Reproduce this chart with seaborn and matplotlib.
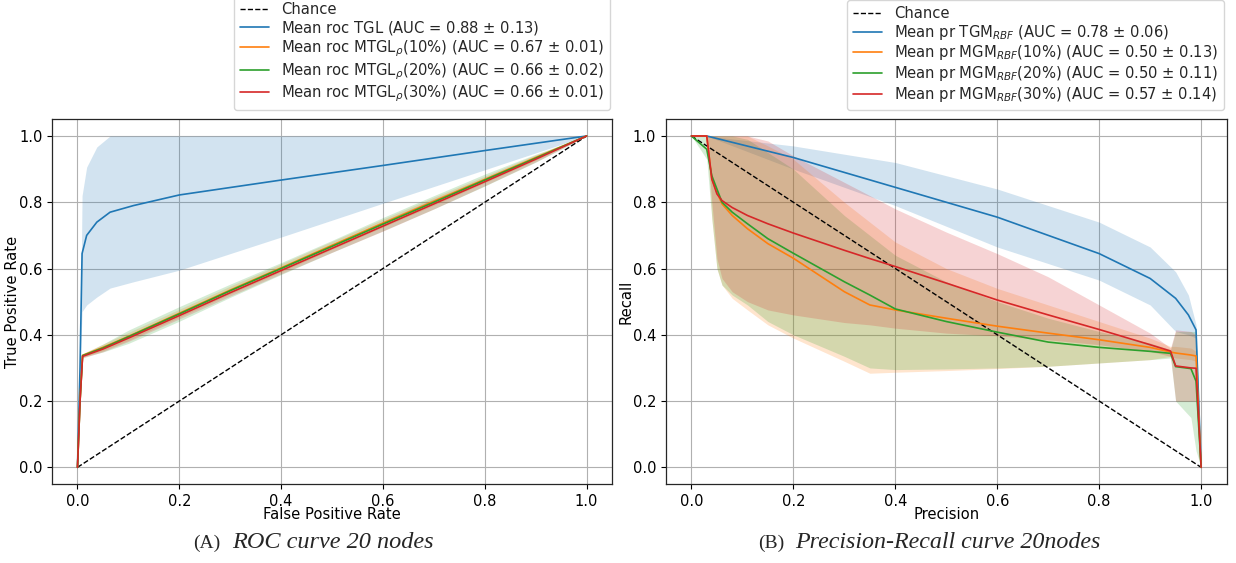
import numpy as np
import matplotlib
matplotlib.use("Agg")
import matplotlib.pyplot as plt
import seaborn as sns

# ---- ROC data (20 nodes) ----
fpr_tgl = [0.0, 0.005, 0.009, 0.018, 0.038, 0.064, 0.11, 0.2, 0.4, 0.6, 0.8, 1.0]
tpr_tgl = [0.0, 0.30, 0.645, 0.70, 0.74, 0.77, 0.79, 0.822, 0.867, 0.911, 0.956, 1.0]
tpr_tgl_lo = [0.0, 0.30, 0.47, 0.49, 0.514, 0.541, 0.56, 0.595, 0.695, 0.797, 0.898, 1.0]
tpr_tgl_hi = [0.0, 0.30, 0.82, 0.906, 0.967, 1.0, 1.0, 1.0, 1.0, 1.0, 1.0, 1.0]

fpr_mtgl = [0.0, 0.005, 0.01, 0.05, 0.1, 0.2, 0.3, 0.4, 0.5, 0.6, 0.7, 0.8, 0.9, 1.0]
tpr_mtgl10 = [0.0, 0.2, 0.338, 0.362, 0.395, 0.465, 0.535, 0.602, 0.67, 0.737, 0.803, 0.869, 0.935, 1.0]
tpr_mtgl20 = [0.0, 0.2, 0.337, 0.36, 0.394, 0.463, 0.533, 0.60, 0.667, 0.734, 0.80, 0.867, 0.933, 1.0]
tpr_mtgl30 = [0.0, 0.2, 0.335, 0.357, 0.39, 0.458, 0.527, 0.594, 0.661, 0.728, 0.795, 0.862, 0.93, 1.0]
sd_mtgl10 = [0, 0, 0.005, 0.01, 0.012, 0.012, 0.012, 0.012, 0.012, 0.012, 0.012, 0.01, 0.008, 0]
sd_mtgl20 = [0, 0, 0.005, 0.012, 0.02, 0.022, 0.02, 0.018, 0.018, 0.02, 0.02, 0.018, 0.012, 0]
sd_mtgl30 = [0, 0, 0.005, 0.008, 0.01, 0.01, 0.01, 0.01, 0.012, 0.015, 0.015, 0.012, 0.008, 0]

# ---- Precision-Recall data ----
prec_tgm = [0.0, 0.03, 0.2, 0.4, 0.6, 0.7, 0.8, 0.9, 0.95, 0.975, 0.99, 1.0]
rec_tgm = [1.0, 1.0, 0.935, 0.845, 0.755, 0.70, 0.645, 0.57, 0.51, 0.46, 0.415, 0.0]
rec_tgm_hi = [1.0, 1.0, 0.97, 0.92, 0.84, 0.79, 0.74, 0.665, 0.59, 0.52, 0.43, 0.0]
rec_tgm_lo = [1.0, 1.0, 0.90, 0.79, 0.665, 0.615, 0.565, 0.49, 0.41, 0.40, 0.39, 0.0]

prec_mgm = [0.0, 0.03, 0.04, 0.05, 0.06, 0.08, 0.11, 0.15, 0.2, 0.3, 0.35, 0.4,
            0.5, 0.6, 0.7, 0.8, 0.9, 0.94, 0.95, 0.98, 0.99, 1.0]
rec_mgm10 = [1.0, 1.0, 0.87, 0.83, 0.795, 0.76, 0.72, 0.675, 0.631, 0.53, 0.49, 0.475,
             0.45, 0.426, 0.405, 0.385, 0.362, 0.348, 0.345, 0.339, 0.336, 0.0]
rec_mgm10_hi = [1.0, 1.0, 1.0, 1.0, 1.0, 1.0, 1.0, 0.97, 0.93, 0.80, 0.74, 0.68,
                0.60, 0.54, 0.49, 0.44, 0.39, 0.365, 0.365, 0.36, 0.35, 0.0]
rec_mgm10_lo = [1.0, 1.0, 0.75, 0.60, 0.55, 0.51, 0.475, 0.43, 0.39, 0.32, 0.284, 0.287,
                0.292, 0.298, 0.305, 0.315, 0.325, 0.335, 0.33, 0.325, 0.32, 0.0]
rec_mgm20 = [1.0, 0.96, 0.88, 0.84, 0.80, 0.77, 0.735, 0.69, 0.646, 0.56, 0.52, 0.478,
             0.44, 0.408, 0.378, 0.362, 0.35, 0.344, 0.304, 0.298, 0.26, 0.0]
rec_mgm20_hi = [1.0, 1.0, 1.0, 1.0, 1.0, 1.0, 0.99, 0.95, 0.90, 0.76, 0.70, 0.64,
                0.56, 0.50, 0.45, 0.41, 0.375, 0.355, 0.41, 0.41, 0.41, 0.0]
rec_mgm20_lo = [1.0, 0.93, 0.75, 0.60, 0.55, 0.52, 0.49, 0.44, 0.40, 0.335, 0.30, 0.295,
                0.297, 0.30, 0.305, 0.315, 0.325, 0.33, 0.20, 0.15, 0.05, 0.0]
rec_mgm30 = [1.0, 1.0, 0.87, 0.825, 0.805, 0.784, 0.76, 0.735, 0.707, 0.655, 0.63, 0.606,
             0.556, 0.505, 0.46, 0.416, 0.37, 0.351, 0.306, 0.30, 0.299, 0.0]
rec_mgm30_hi = [1.0, 1.0, 1.0, 1.0, 1.0, 1.0, 1.0, 0.985, 0.94, 0.86, 0.82, 0.78,
                0.71, 0.645, 0.575, 0.49, 0.405, 0.36, 0.415, 0.41, 0.40, 0.0]
rec_mgm30_lo = [1.0, 1.0, 0.80, 0.63, 0.57, 0.53, 0.50, 0.475, 0.46, 0.437, 0.43, 0.42,
                0.405, 0.397, 0.385, 0.37, 0.35, 0.335, 0.20, 0.20, 0.20, 0.0]

roc_labels = ["Mean roc TGL (AUC = 0.88 $\\pm$ 0.13)",
              "Mean roc MTGL$_\\rho$(10%) (AUC = 0.67 $\\pm$ 0.01)",
              "Mean roc MTGL$_\\rho$(20%) (AUC = 0.66 $\\pm$ 0.02)",
              "Mean roc MTGL$_\\rho$(30%) (AUC = 0.66 $\\pm$ 0.01)"]
pr_labels = ["Mean pr TGM$_{RBF}$ (AUC = 0.78 $\\pm$ 0.06)",
             "Mean pr MGM$_{RBF}$(10%) (AUC = 0.50 $\\pm$ 0.13)",
             "Mean pr MGM$_{RBF}$(20%) (AUC = 0.50 $\\pm$ 0.11)",
             "Mean pr MGM$_{RBF}$(30%) (AUC = 0.57 $\\pm$ 0.14)"]
ticks = [0.0, 0.2, 0.4, 0.6, 0.8, 1.0]

sns.set_style("ticks", {"axes.grid": True, "grid.color": "#b0b0b0",
                        "axes.edgecolor": "black", "xtick.color": "black",
                        "ytick.color": "black", "axes.labelcolor": "black"})
plt.rcParams['font.family'] = ['DejaVu Sans']
plt.rcParams['font.size'] = 10.5
plt.rcParams['axes.labelsize'] = 10.6
plt.rcParams['grid.linewidth'] = 0.8
plt.rcParams['axes.linewidth'] = 0.9

colors = sns.color_palette("tab10")
fig = plt.figure(figsize=(12.36, 5.63), dpi=100)
ax1 = fig.add_axes([0.0421, 0.1405, 0.4531, 0.6474])
ax2 = fig.add_axes([0.5388, 0.1405, 0.4536, 0.6474])

# ROC panel
sns.lineplot(x=[0, 1], y=[0, 1], ax=ax1, color='black', linestyle='--', lw=1,
             label='Chance', estimator=None, sort=False)
roc_series = [(fpr_tgl, tpr_tgl, tpr_tgl_lo, tpr_tgl_hi)]
for m, sd in [(tpr_mtgl10, sd_mtgl10), (tpr_mtgl20, sd_mtgl20), (tpr_mtgl30, sd_mtgl30)]:
    m = np.array(m); sd = np.array(sd)
    roc_series.append((fpr_mtgl, m, m - sd, m + sd))
for i, (x, y, lo, hi) in enumerate(roc_series):
    ax1.fill_between(x, lo, hi, color=colors[i], alpha=0.2, lw=0)
    sns.lineplot(x=x, y=y, ax=ax1, color=colors[i], lw=1.2, label=roc_labels[i],
                 estimator=None, sort=False)
ax1.set_xlabel('False Positive Rate')
ax1.set_ylabel('True Positive Rate')

# PR panel
sns.lineplot(x=[0, 1], y=[1, 0], ax=ax2, color='black', linestyle='--', lw=1,
             label='Chance', estimator=None, sort=False)
pr_series = [(prec_tgm, rec_tgm, rec_tgm_lo, rec_tgm_hi),
             (prec_mgm, rec_mgm10, rec_mgm10_lo, rec_mgm10_hi),
             (prec_mgm, rec_mgm20, rec_mgm20_lo, rec_mgm20_hi),
             (prec_mgm, rec_mgm30, rec_mgm30_lo, rec_mgm30_hi)]
for i, (x, y, lo, hi) in enumerate(pr_series):
    ax2.fill_between(x, lo, hi, color=colors[i], alpha=0.2, lw=0)
    sns.lineplot(x=x, y=y, ax=ax2, color=colors[i], lw=1.2, label=pr_labels[i],
                 estimator=None, sort=False)
ax2.set_xlabel('Precision')
ax2.set_ylabel('Recall')

for ax in (ax1, ax2):
    ax.set_xlim(-0.05, 1.05)
    ax.set_ylim(-0.05, 1.05)
    ax.set_xticks(ticks)
    ax.set_yticks(ticks)
    ax.xaxis.set_label_coords(0.5, -0.064)
    ax.yaxis.set_label_coords(-0.057, 0.5)
    ax.tick_params(length=3.5, width=0.8, labelsize=10.5)
    ax.grid(True, color='#b0b0b0', lw=0.8)
    for s in ax.spines.values():
        s.set_visible(True)
        s.set_color('#262626')
    ax.legend(loc='lower right', bbox_to_anchor=(1.0, 1.02), borderaxespad=0.15,
              fontsize=10.6, frameon=True, edgecolor='#cccccc', framealpha=0.8,
              handletextpad=0.8, labelspacing=0.12)

# subfigure captions
cap_font = ['Liberation Serif', 'DejaVu Serif']
fig.text(0.1561, 0.026, '(A)', ha='left', va='baseline', fontsize=14, family=cap_font)
fig.text(0.1875, 0.026, 'ROC curve 20 nodes', ha='left', va='baseline',
         fontsize=17.5, style='italic', family=cap_font)
fig.text(0.6133, 0.026, '(B)', ha='left', va='baseline', fontsize=14, family=cap_font)
fig.text(0.6432, 0.026, 'Precision-Recall curve 20nodes', ha='left', va='baseline',
         fontsize=17.3, style='italic', family=cap_font)

fig.savefig('out.png', dpi=100)
